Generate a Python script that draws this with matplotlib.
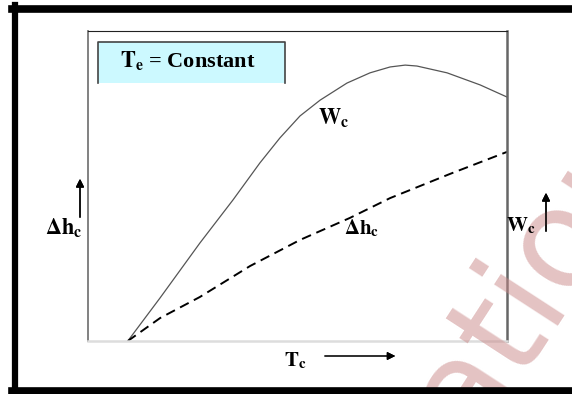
import matplotlib
matplotlib.use('Agg')
import matplotlib.pyplot as plt
from matplotlib.lines import Line2D
from matplotlib.patches import Rectangle

plt.rcParams['mathtext.fontset'] = 'stix'

# data (axis units 0..10, no real scale on the sketch)
wc_x = [0.95, 1.72, 2.67, 3.46, 4.10, 4.58, 5.06, 5.54, 6.18, 6.73, 7.21, 7.57, 7.85, 8.57, 9.36, 10.0]
wc_y = [0.0, 1.39, 3.16, 4.55, 5.74, 6.55, 7.26, 7.77, 8.32, 8.65, 8.84, 8.90, 8.87, 8.65, 8.26, 7.87]
dh_x = [0.95, 1.72, 2.67, 3.87, 5.06, 6.25, 7.21, 8.64, 10.0]
dh_y = [0.0, 0.74, 1.42, 2.42, 3.26, 3.97, 4.61, 5.39, 6.10]

legend_text = r'$\mathbf{T}_{\mathbf{e}}$ = Constant'
wc_label = r'$\mathbf{W}_{\mathbf{c}}$'
dh_label = r'$\mathbf{\Delta h}_{\mathbf{c}}$'
tc_label = r'$\mathbf{T}_{\mathbf{c}}$'

W, H = 572, 394
fig = plt.figure(figsize=(W / 100, H / 100), dpi=100)
fig.set_facecolor('white')

def fx(px):
    return px / W

def fy(py):
    return 1 - py / H

# plot area
ax = fig.add_axes([fx(88), fy(341), fx(507) - fx(88), fy(31) - fy(341)])
ax.set_xlim(0, 10)
ax.set_ylim(0, 10)
ax.set_xticks([])
ax.set_yticks([])
ax.spines['left'].set_color('#777777')
ax.spines['left'].set_linewidth(1.3)
ax.spines['right'].set_color('#666666')
ax.spines['right'].set_linewidth(1.8)
ax.spines['top'].set_color('#222222')
ax.spines['top'].set_linewidth(0.8)
ax.spines['bottom'].set_color('#dddddd')
ax.spines['bottom'].set_linewidth(1.8)

ax.plot(wc_x, wc_y, color='#555555', lw=0.9)
ax.plot(dh_x, dh_y, color='black', lw=1.4, dashes=(5, 3))

ax.text(5.5, 7.2, wc_label, fontsize=16, ha='left', va='center')
ax.text(6.1, 3.65, dh_label, fontsize=15, ha='left', va='center')

# "Te = Constant" box (no bottom edge)
bx0, bx1, by0, by1 = fx(98), fx(285), fy(83), fy(42)
fig.add_artist(Rectangle((bx0, by0), bx1 - bx0, by1 - by0, transform=fig.transFigure,
                         facecolor='#ccf9ff', edgecolor='none', zorder=3))
fig.add_artist(Line2D([bx0, bx0, bx1, bx1], [by0, by1, by1, by0], transform=fig.transFigure,
                      color='#444444', lw=1.2, zorder=4))
fig.text(fx(188), fy(61), legend_text, fontsize=16, ha='center', va='center',
         family='Liberation Serif', weight='bold', zorder=5)

# watermark
fig.text(fx(472), fy(446), 'ation', fontsize=100, color='#c98888', alpha=0.5,
         rotation=57, rotation_mode='anchor', ha='left', va='baseline', zorder=1)

# axis labels with arrows
fig.text(fx(83), fy(228), dh_label, fontsize=16, ha='right', va='center')
fig.text(fx(506), fy(226), wc_label, fontsize=15, ha='left', va='center', zorder=7)
fig.text(fx(295), fy(361), tc_label, fontsize=15, ha='center', va='center')
fig.add_artist(plt.annotate('', xy=(fx(80), fy(176)), xytext=(fx(80), fy(220)),
                            xycoords='figure fraction',
                            arrowprops=dict(arrowstyle='-|>', color='black', lw=1.0,
                                            mutation_scale=12)))
fig.add_artist(plt.annotate('', xy=(fx(546), fy(190)), xytext=(fx(546), fy(234)),
                            xycoords='figure fraction',
                            arrowprops=dict(arrowstyle='-|>', color='black', lw=1.0,
                                            mutation_scale=12)))
fig.add_artist(plt.annotate('', xy=(fx(398), fy(356)), xytext=(fx(322), fy(356)),
                            xycoords='figure fraction',
                            arrowprops=dict(arrowstyle='-|>', color='black', lw=0.8,
                                            mutation_scale=12)))

# outer frame (open on the right)
fig.add_artist(Line2D([fx(14.5), fx(14.5)], [fy(5), fy(394)], transform=fig.transFigure,
                      color='black', lw=4.5))
fig.add_artist(Line2D([fx(12), fx(572)], [fy(8.5), fy(8.5)], transform=fig.transFigure,
                      color='black', lw=5.5))
fig.add_artist(Line2D([fx(12), fx(572)], [fy(391), fy(391)], transform=fig.transFigure,
                      color='black', lw=5.5))

fig.savefig('out.png', dpi=100)
